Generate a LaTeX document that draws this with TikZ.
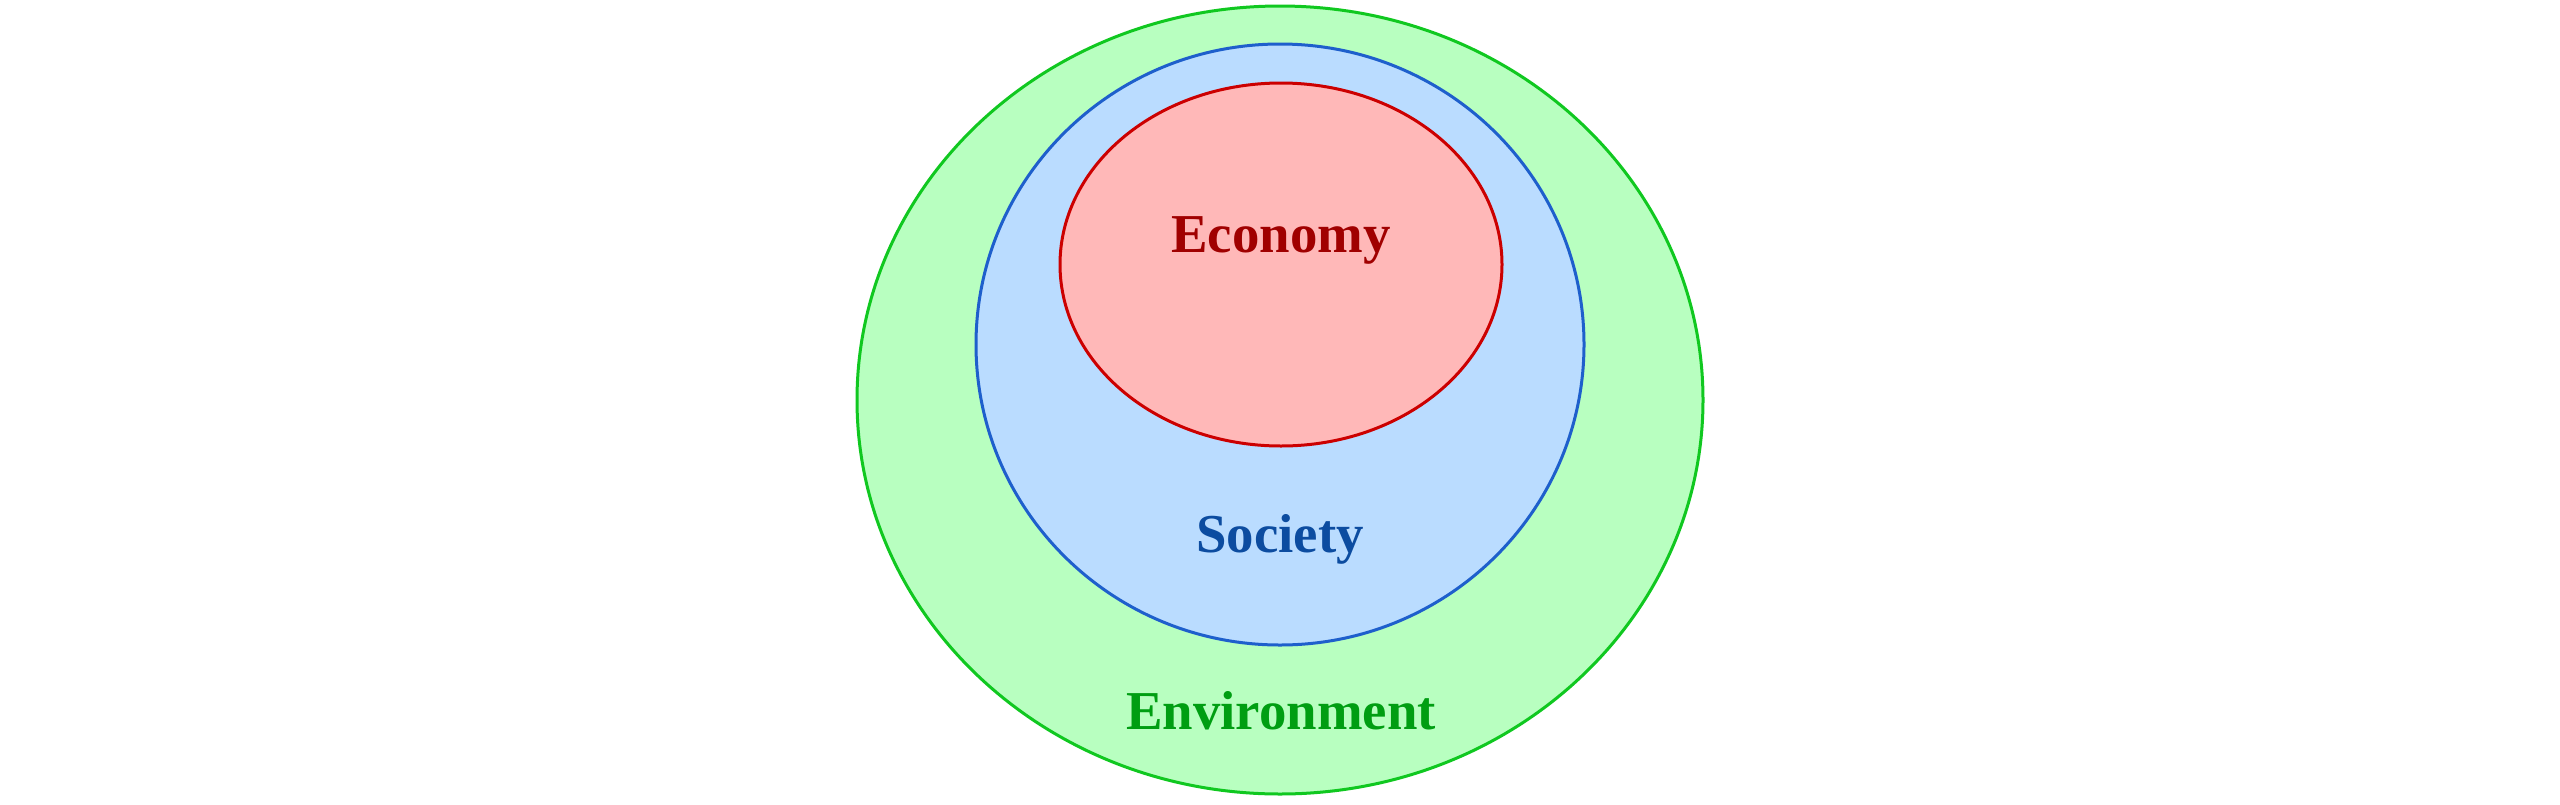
\documentclass[tikz,border=0pt]{standalone}
\usepackage{fontspec}
\setmainfont{Liberation Serif}
\definecolor{envfill}{HTML}{B8FFC0}
\definecolor{envline}{HTML}{10C820}
\definecolor{envtext}{HTML}{009E12}
\definecolor{socfill}{HTML}{BADCFF}
\definecolor{socline}{HTML}{1E5FCC}
\definecolor{soctext}{HTML}{0C4CA0}
\definecolor{ecofill}{HTML}{FFB8B8}
\definecolor{ecoline}{HTML}{CC0000}
\definecolor{ecotext}{HTML}{A00000}
\tikzset{
  ring/.style={line width=1.5pt},
  lbl/.style={font=\fontsize{27.4}{33}\selectfont\bfseries, anchor=base, inner sep=0pt}
}
\begin{document}
\begin{tikzpicture}[x=0.5pt,y=-0.5pt]
\useasboundingbox (0,0) rectangle (2560,804);
\fill[white] (0,0) rectangle (2560,804);
\draw[ring, draw=envline, fill=envfill] (1280,400) ellipse [x radius=423, y radius=394];
\draw[ring, draw=socline, fill=socfill] (1280,344.5) ellipse [x radius=304, y radius=300.5];
\draw[ring, draw=ecoline, fill=ecofill] (1281,264.5) ellipse [x radius=221, y radius=181.5];
\node[lbl, text=ecotext] (eco) at (1281,252) {Economy};
\node[lbl, text=soctext] (soc) at (1280,552) {Society};
\node[lbl, text=envtext] (env) at (1281,729) {Environment};
\end{tikzpicture}
\end{document}
